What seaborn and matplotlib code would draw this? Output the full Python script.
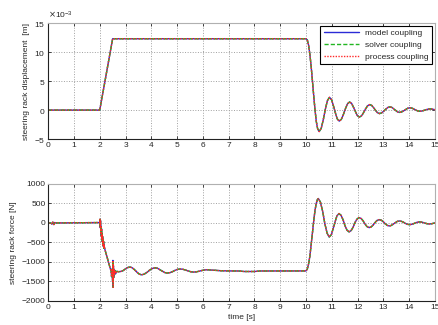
import numpy as np
import pandas as pd
import matplotlib
matplotlib.use("Agg")
import matplotlib.pyplot as plt
import seaborn as sns

# coupling variants (all three give the same response)
couplings = ["model coupling", "solver coupling", "process coupling"]
colors = ["#2b2bd6", "#22b622", "#ff2a2a"]

# steering rack displacement (in 1e-3 m)
t_disp = [0.0, 2.0, 2.5, 10.0, 10.05, 10.1, 10.15, 10.2, 10.25, 10.3, 10.35, 10.4, 10.45,
          10.51, 10.59, 10.67, 10.75, 10.83, 10.91, 10.99, 11.06, 11.14, 11.21, 11.29,
          11.37, 11.45, 11.53, 11.61, 11.69, 11.77, 11.84, 11.92, 11.99, 12.07,
          12.15, 12.23, 12.31, 12.39, 12.47, 12.55, 12.62, 12.70, 12.77, 12.85,
          12.93, 13.01, 13.09, 13.17, 13.25, 13.33, 13.40, 13.48, 13.55, 13.63,
          13.71, 13.79, 13.87, 13.95, 14.03, 14.11, 14.18, 14.26, 14.33, 14.41,
          14.49, 14.57, 14.65, 14.73, 14.81, 14.89, 14.96, 15.0]
disp_mm = [0.0, 0.0, 12.3, 12.3, 12.1, 11.2, 9.6, 7.5, 5.0, 2.4, 0.0, -2.0, -3.2,
           -3.7, -3.14, -1.66, 0.16, 1.64, 2.2, 1.81, 0.79, -0.49, -1.51, -1.9,
           -1.59, -0.76, 0.26, 1.09, 1.4, 1.15, 0.5, -0.3, -0.95, -1.2,
           -1.0, -0.46, 0.21, 0.75, 0.95, 0.8, 0.42, -0.07, -0.45, -0.6,
           -0.49, -0.2, 0.15, 0.44, 0.55, 0.46, 0.22, -0.07, -0.31, -0.4,
           -0.32, -0.12, 0.12, 0.32, 0.4, 0.34, 0.19, 0.01, -0.14, -0.2,
           -0.16, -0.06, 0.06, 0.16, 0.2, 0.17, 0.1, 0.06]

# steering rack force [N]
t_force = [0.0, 0.1, 0.15, 0.18, 0.22, 0.25, 0.3, 2.0, 2.01, 2.02, 2.03, 2.04, 2.05,
           2.06, 2.07, 2.08, 2.09, 2.10, 2.11, 2.12, 2.13, 2.14, 2.15, 2.16, 2.17,
           2.18, 2.2, 2.25, 2.3, 2.35, 2.4, 2.44, 2.46, 2.48, 2.50, 2.51, 2.52,
           2.53, 2.54, 2.55, 2.57, 2.59, 2.62, 2.66, 2.72,
           2.81, 2.9, 2.99, 3.08, 3.17, 3.26, 3.35, 3.44, 3.53, 3.62,
           3.72, 3.83, 3.93, 4.04, 4.14, 4.24, 4.33, 4.43, 4.52, 4.62,
           4.72, 4.82, 4.92, 5.02, 5.12, 5.22, 5.33, 5.43, 5.54, 5.64,
           5.74, 5.85, 5.95, 6.06, 6.16, 6.4, 6.7, 7.0, 7.4, 7.6, 8.0, 8.2, 9.0,
           10.0, 10.05, 10.1, 10.15, 10.2, 10.25, 10.3, 10.35, 10.4, 10.44, 10.48,
           10.56, 10.65, 10.73, 10.82, 10.9, 10.98, 11.05, 11.13, 11.2, 11.28,
           11.36, 11.44, 11.51, 11.59, 11.67, 11.75, 11.83, 11.9, 11.98, 12.06,
           12.14, 12.22, 12.29, 12.37, 12.45, 12.53, 12.61, 12.68, 12.76, 12.84,
           12.92, 13.0, 13.07, 13.15, 13.23, 13.3, 13.38, 13.46, 13.54, 13.62,
           13.7, 13.78, 13.85, 13.93, 14.01, 14.09, 14.17, 14.24, 14.32, 14.4,
           14.48, 14.56, 14.63, 14.71, 14.79, 14.87, 14.94, 15.0]
force = [0, 0, -30, 20, -40, 10, 0, 10, 95, -120, 60, -250, -80,
         -330, -150, -420, -280, -480, -350, -560, -420, -600, -480, -650, -560,
         -620, -680, -800, -920, -1040, -1150, -1230, -1380, -1180, -1500, -960, -1650,
         -1100, -1400, -1200, -1330, -1220, -1300, -1240, -1250,
         -1245, -1225, -1180, -1145, -1130, -1149, -1199, -1261, -1311, -1330,
         -1313, -1268, -1212, -1167, -1150, -1163, -1197, -1238, -1272, -1285,
         -1275, -1249, -1216, -1190, -1180, -1188, -1208, -1232, -1252, -1260,
         -1254, -1239, -1221, -1206, -1200, -1210, -1225, -1230, -1232, -1245, -1245, -1232, -1230,
         -1230, -1180, -1050, -850, -560, -250, 60, 330, 510, 600, 625,
         531, 285, -20, -266, -360, -303, -153, 33, 183, 240,
         195, 78, -68, -185, -230, -195, -103, 10, 102, 137,
         113, 48, -31, -96, -120, -101, -49, 14, 66, 85,
         70, 29, -21, -62, -77, -65, -33, 7, 39, 51,
         42, 19, -11, -34, -43, -36, -19, 2, 19, 26,
         21, 8, -8, -21, -26, -20, -8, 0]


def long_frame(t, y, name):
    frames = [pd.DataFrame({"time": t, name: y, "coupling": c}) for c in couplings]
    return pd.concat(frames, ignore_index=True)


df_disp = long_frame(t_disp, np.array(disp_mm) * 1e-3, "disp")
df_force = long_frame(t_force, force, "force")

sns.set_style("ticks")
plt.rcParams["font.family"] = ["Liberation Sans", "DejaVu Sans"]
plt.rcParams["font.size"] = 6

palette = dict(zip(couplings, colors))
dashes = {"model coupling": "", "solver coupling": (3, 1.5), "process coupling": (1, 1)}

fig = plt.figure(figsize=(4.38, 3.25), dpi=100)
ax1 = fig.add_axes([0.110, 0.572, 0.883, 0.357])
ax2 = fig.add_axes([0.110, 0.074, 0.883, 0.360])

for ax, data, col in [(ax1, df_disp, "disp"), (ax2, df_force, "force")]:
    sns.lineplot(data=data, x="time", y=col, hue="coupling", style="coupling",
                 hue_order=couplings, style_order=couplings, palette=palette,
                 dashes=dashes, estimator=None, sort=False, linewidth=1.0, ax=ax)
    ax.set_xlim(0, 15)
    ax.set_xticks(range(0, 16))
    ax.grid(True, linestyle=":", color="#a0a0a0", linewidth=0.7)
    ax.tick_params(direction="in", length=2.5, labelsize=6, pad=2,
                   top=True, right=True, width=0.6)
    for side in ["left", "bottom"]:
        ax.spines[side].set_color("#222222")
        ax.spines[side].set_linewidth(0.8)
    for side in ["top", "right"]:
        ax.spines[side].set_color("#b0b0b0")
        ax.spines[side].set_linewidth(0.8)

ax1.set_ylim(-0.005, 0.015)
ax1.set_yticks([-0.005, 0, 0.005, 0.010, 0.015])
ax1.ticklabel_format(axis="y", style="sci", scilimits=(-3, -3), useMathText=True)
ax1.yaxis.get_offset_text().set_fontsize(6)
ax1.set_xlabel("")
ax1.set_ylabel("steering rack displacement  [m]", fontsize=6, labelpad=3)
leg = ax1.legend(loc="upper right", fontsize=6, frameon=True, fancybox=False,
                 edgecolor="black", framealpha=1, handlelength=4.2,
                 borderaxespad=0.3, labelspacing=0.5, borderpad=0.4)
leg.get_frame().set_linewidth(0.8)

ax2.set_ylim(-2000, 1000)
ax2.set_yticks(range(-2000, 1001, 500))
ax2.set_xlabel("time [s]", fontsize=6, labelpad=2)
ax2.set_ylabel("steering rack force [N]", fontsize=6, labelpad=3)
ax2.get_legend().remove()

fig.savefig("out.png", dpi=100)
